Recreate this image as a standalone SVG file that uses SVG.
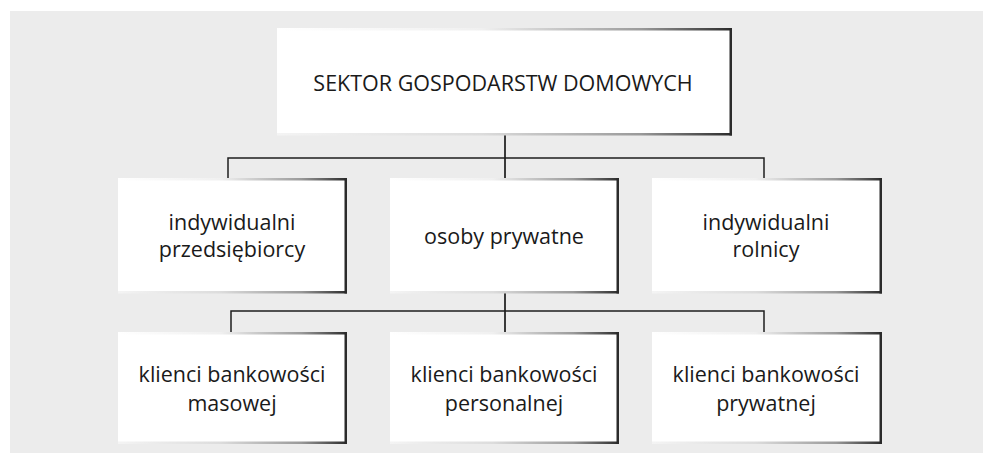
<svg xmlns="http://www.w3.org/2000/svg" width="983" height="453" viewBox="0 0 983 453">
  <style>
    .box { fill: #ffffff; }
    .edge-r { fill: #2b2b2b; }
    .lbl { font-family: "Open Sans", "Noto Sans", "Liberation Sans", sans-serif; font-size: 21.5px; fill: #1a1a1a; text-anchor: middle; }
    .conn { stroke: #1e1e1e; stroke-width: 1.5; fill: none; }
    .drop { stroke: #3a3a3a; stroke-width: 2; fill: none; }
  </style>
  <defs>
    <linearGradient id="edgeTop" x1="0" y1="0" x2="1" y2="0">
      <stop offset="0" stop-color="#ffffff"/>
      <stop offset="0.45" stop-color="#f0f0f0"/>
      <stop offset="0.8" stop-color="#9a9a9a"/>
      <stop offset="1" stop-color="#2b2b2b"/>
    </linearGradient>
    <linearGradient id="edgeBottom" x1="0" y1="0" x2="1" y2="0">
      <stop offset="0" stop-color="#f4f4f4"/>
      <stop offset="0.45" stop-color="#dcdcdc"/>
      <stop offset="0.8" stop-color="#999999"/>
      <stop offset="1" stop-color="#2b2b2b"/>
    </linearGradient>
  </defs>

  <!-- panel -->
  <rect x="10" y="11" width="973" height="442" fill="#ececec"/>

  <!-- connectors -->
  <g id="connectors">
    <path class="drop" d="M505 135 V178"/>
    <path class="conn" d="M228 178 V158 H764 V178"/>
    <path class="drop" d="M505 293 V332"/>
    <path class="conn" d="M231 332 V311 H764 V332"/>
  </g>

  <!-- root -->
  <g id="sektor">
    <rect class="box" x="277" y="28" width="455" height="107"/>
    <rect x="277" y="28" width="455" height="2.5" fill="url(#edgeTop)"/>
    <rect x="277" y="133" width="455" height="2.5" fill="url(#edgeBottom)"/>
    <rect class="edge-r" x="729.5" y="28" width="2.5" height="107.5"/>
    <text class="lbl" x="503" y="91">SEKTOR GOSPODARSTW DOMOWYCH</text>
  </g>

  <!-- second row -->
  <g id="przedsiebiorcy">
    <rect class="box" x="118" y="178" width="229" height="115"/>
    <rect x="118" y="178" width="229" height="2.5" fill="url(#edgeTop)"/>
    <rect x="118" y="291" width="229" height="2.5" fill="url(#edgeBottom)"/>
    <rect class="edge-r" x="344.5" y="178" width="2.5" height="115.5"/>
    <text class="lbl" x="232" y="230">indywidualni</text>
    <text class="lbl" x="232" y="257">przedsiębiorcy</text>
  </g>

  <g id="osoby">
    <rect class="box" x="390" y="178" width="229" height="115"/>
    <rect x="390" y="178" width="229" height="2.5" fill="url(#edgeTop)"/>
    <rect x="390" y="291" width="229" height="2.5" fill="url(#edgeBottom)"/>
    <rect class="edge-r" x="616.5" y="178" width="2.5" height="115.5"/>
    <text class="lbl" x="504" y="244">osoby prywatne</text>
  </g>

  <g id="rolnicy">
    <rect class="box" x="652" y="178" width="230" height="115"/>
    <rect x="652" y="178" width="230" height="2.5" fill="url(#edgeTop)"/>
    <rect x="652" y="291" width="230" height="2.5" fill="url(#edgeBottom)"/>
    <rect class="edge-r" x="879.5" y="178" width="2.5" height="115.5"/>
    <text class="lbl" x="766" y="230">indywidualni</text>
    <text class="lbl" x="766" y="257">rolnicy</text>
  </g>

  <!-- third row -->
  <g id="masowa">
    <rect class="box" x="118" y="332" width="229" height="112"/>
    <rect x="118" y="332" width="229" height="2.5" fill="url(#edgeTop)"/>
    <rect x="118" y="441.5" width="229" height="2.5" fill="url(#edgeBottom)"/>
    <rect class="edge-r" x="344.5" y="332" width="2.5" height="112"/>
    <text class="lbl" x="232" y="382">klienci bankowości</text>
    <text class="lbl" x="232" y="411">masowej</text>
  </g>

  <g id="personalna">
    <rect class="box" x="390" y="332" width="229" height="112"/>
    <rect x="390" y="332" width="229" height="2.5" fill="url(#edgeTop)"/>
    <rect x="390" y="441.5" width="229" height="2.5" fill="url(#edgeBottom)"/>
    <rect class="edge-r" x="616.5" y="332" width="2.5" height="112"/>
    <text class="lbl" x="504" y="382">klienci bankowości</text>
    <text class="lbl" x="504" y="411">personalnej</text>
  </g>

  <g id="prywatna">
    <rect class="box" x="652" y="332" width="230" height="112"/>
    <rect x="652" y="332" width="230" height="2.5" fill="url(#edgeTop)"/>
    <rect x="652" y="441.5" width="230" height="2.5" fill="url(#edgeBottom)"/>
    <rect class="edge-r" x="879.5" y="332" width="2.5" height="112"/>
    <text class="lbl" x="766" y="382">klienci bankowości</text>
    <text class="lbl" x="766" y="411">prywatnej</text>
  </g>
</svg>
